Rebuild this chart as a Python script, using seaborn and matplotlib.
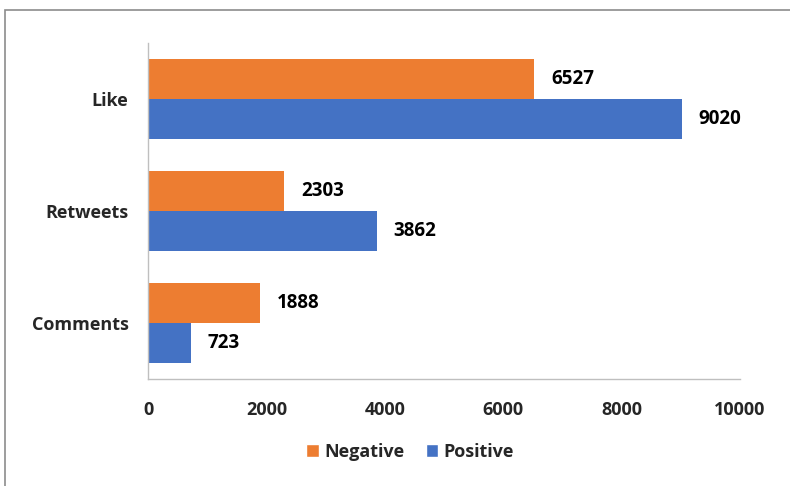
import matplotlib
matplotlib.use("Agg")
import matplotlib.pyplot as plt
import seaborn as sns
import pandas as pd
from matplotlib.patches import Rectangle, Patch

categories = ["Like", "Retweets", "Comments"]
negative = [6527, 2303, 1888]
positive = [9020, 3862, 723]
series = ["Negative", "Positive"]
colors = ["#ED7D31", "#4472C4"]
x_ticks = [0, 2000, 4000, 6000, 8000, 10000]

df = pd.DataFrame({
    "Metric": categories * 2,
    "Count": negative + positive,
    "Sentiment": [series[0]] * len(categories) + [series[1]] * len(categories),
})

sns.set_theme(style="white")
plt.rcParams["font.family"] = ["Open Sans", "DejaVu Sans"]
plt.rcParams["font.weight"] = "bold"

fig = plt.figure(figsize=(7.9, 4.86), dpi=100)
ax = fig.add_axes([148 / 790, 107 / 486, 592 / 790, 336 / 486])

sns.barplot(data=df, y="Metric", x="Count", hue="Sentiment", order=categories,
            hue_order=series, palette=colors, orient="h", width=0.714,
            saturation=1, linewidth=0, ax=ax, legend=False)

for container in ax.containers:
    ax.bar_label(container, fmt="%d", padding=12, fontsize=13.5,
                 fontweight="bold", color="black")

ax.set_xlim(0, 10000)
ax.set_ylim(2.5, -0.5)
ax.set_xticks(x_ticks)
ax.set_xticklabels([str(t) for t in x_ticks], fontsize=13, fontweight="bold")
ax.tick_params(axis="x", pad=16, length=0)
ax.tick_params(axis="y", pad=14, length=0, labelsize=13)
for lbl in ax.get_yticklabels():
    lbl.set_fontweight("bold")
ax.set_xlabel("")
ax.set_ylabel("")
for side in ["top", "right"]:
    ax.spines[side].set_visible(False)
for side in ["left", "bottom"]:
    ax.spines[side].set_color("#BFBFBF")
    ax.spines[side].set_linewidth(1.0)

handles = [Patch(facecolor=c, label=s) for c, s in zip(colors, series)]
fig.legend(handles=handles, loc="center", bbox_to_anchor=(410 / 790, 1 - 452 / 486),
           ncol=2, frameon=False, handlelength=0.7, handleheight=0.7,
           handletextpad=0.3, columnspacing=1.2,
           prop={"weight": "bold", "size": 13})

# outer frame around the chart area
fig.patches.append(Rectangle((5 / 790, -0.1), 1.2, 1 - 10 / 486 + 0.1,
                             transform=fig.transFigure, fill=False,
                             edgecolor="#8C8C8C", linewidth=1.2))

fig.savefig("out.png", dpi=100)
